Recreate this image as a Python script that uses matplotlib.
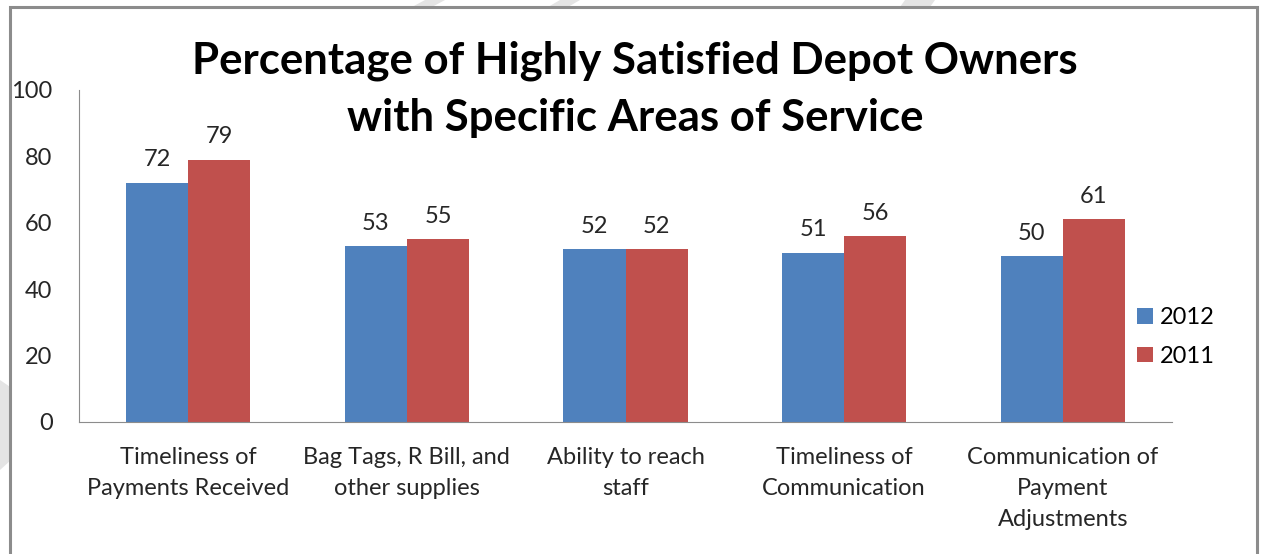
import matplotlib.pyplot as plt
import numpy as np
from matplotlib.patches import Rectangle, Polygon

categories = ['Timeliness of\nPayments Received', 'Bag Tags, R Bill, and\nother supplies',
              'Ability to reach\nstaff', 'Timeliness of\nCommunication',
              'Communication of\nPayment\nAdjustments']
values_2012 = [72, 53, 52, 51, 50]
values_2011 = [79, 55, 52, 56, 61]
title_lines = ['Percentage of Highly Satisfied Depot Owners', 'with Specific Areas of Service']

plt.rcParams['font.family'] = ['Lato', 'DejaVu Sans']

fig = plt.figure(figsize=(12.63, 5.54), dpi=100)
W, H = 1263, 554

# light grey stripes behind the chart frame
stripes = [
    [(0, 380), (22, 395), (22, 450), (0, 470)],
    [(412, 7), (425, 0), (445, 0), (432, 7)],
    [(548, 7), (560, 0), (580, 0), (568, 7)],
    [(900, 7), (905, 0), (935, 0), (930, 7)],
]
for s in stripes:
    fig.patches.append(Polygon([(x / W, 1 - y / H) for x, y in s], closed=True,
                               transform=fig.transFigure, facecolor='#e4e4e4',
                               edgecolor='none', zorder=0))

# chart frame
fig.patches.append(Rectangle((10 / W, -0.05), (1257 - 10) / W, 1 - 7 / H + 0.05,
                             transform=fig.transFigure, facecolor='white',
                             edgecolor='#8c8c8c', linewidth=2.2, zorder=1))

ax = fig.add_axes([79 / W, 1 - 422 / H, (1172 - 79) / W, (422 - 90) / H])
ax.set_zorder(2)
ax.patch.set_alpha(0)

x = np.arange(len(categories))
w = 0.284
b1 = ax.bar(x - w / 2, values_2012, w, color='#4f81bd', label='2012')
b2 = ax.bar(x + w / 2, values_2011, w, color='#c0504d', label='2011')
for bars in (b1, b2):
    ax.bar_label(bars, padding=9, fontsize=17, color='#262626')

ax.set_xlim(-0.5, len(categories) - 0.5)
ax.set_ylim(0, 100)
ax.set_yticks([0, 20, 40, 60, 80, 100])
ax.tick_params(axis='y', length=0, labelsize=17, pad=19, colors='#262626')
ax.tick_params(axis='x', length=0, labelsize=17, pad=18, colors='#262626')
ax.set_xticks(x)
ax.set_xticklabels(categories, linespacing=1.6)
for side in ['top', 'right']:
    ax.spines[side].set_visible(False)
ax.spines['left'].set_color('#8c8c8c')
ax.spines['bottom'].set_color('#8c8c8c')

for i, line in enumerate(title_lines):
    fig.text(635 / W, 1 - (61 + 57 * i) / H, line, ha='center', va='center',
             fontsize=31.5, fontweight='bold', zorder=3)

fig.legend(handles=[b1, b2], loc='center left', bbox_to_anchor=(1116 / W, 1 - 337 / H),
           frameon=False, fontsize=17, handlelength=0.65, handleheight=0.65,
           handletextpad=0.3, labelspacing=0.75)

plt.savefig('out.png', dpi=100)
